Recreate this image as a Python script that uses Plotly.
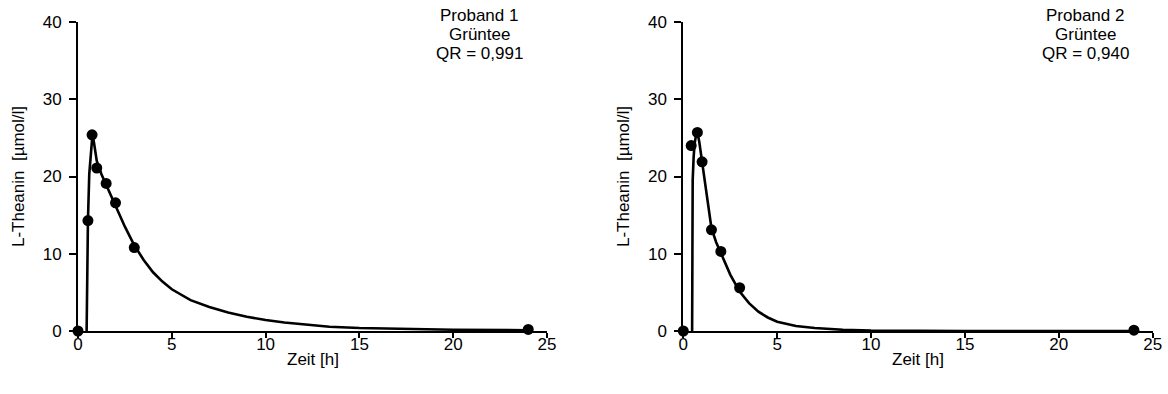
import plotly.graph_objects as go

# Measured plasma concentrations (time in h, L-Theanin in µmol/l)
p1_time = [0, 0.53, 0.75, 1.0, 1.5, 2.0, 3.0, 24.0]
p1_conc = [0, 14.3, 25.4, 21.1, 19.1, 16.6, 10.8, 0.2]

p2_time = [0, 0.42, 0.75, 1.0, 1.5, 2.0, 3.0, 24.0]
p2_conc = [0, 24.0, 25.7, 21.9, 13.1, 10.3, 5.6, 0.1]

# Fitted model curves
p1_fit_time = [0.46, 0.48, 0.53, 0.6, 0.7, 0.77, 0.85, 1.0, 1.25, 1.5, 1.75, 2.0,
               2.5, 3.0, 3.5, 4.0, 4.5, 5.0, 6.0, 7.0, 8.0, 9.0, 10.0, 11.0,
               12.0, 13.4, 15.0, 17.0, 20.0, 24.0]
p1_fit_conc = [0, 8.0, 14.3, 20.3, 24.2, 25.4, 24.4, 22.0, 20.3, 18.9, 17.6, 16.3,
               13.5, 11.1, 9.2, 7.6, 6.4, 5.4, 4.0, 3.1, 2.4, 1.85, 1.42, 1.1,
               0.85, 0.55, 0.38, 0.26, 0.17, 0.1]

p2_fit_time = [0.47, 0.48, 0.5, 0.55, 0.6, 0.68, 0.75, 0.85, 1.0, 1.25, 1.5, 1.75,
               2.0, 2.5, 3.0, 3.5, 4.0, 4.5, 5.0, 6.0, 7.0, 7.5, 8.5, 10.0,
               12.0, 15.0, 24.0]
p2_fit_conc = [0, 10.0, 19.5, 22.5, 24.2, 25.4, 25.7, 24.5, 21.8, 17.2, 13.3, 11.5,
               10.1, 7.3, 5.1, 3.6, 2.5, 1.75, 1.2, 0.65, 0.38, 0.3, 0.16, 0.06,
               0.02, 0.005, 0]

# Panel captions, one list entry per text line
panel_labels = [["Proband 1", "Grüntee", "QR = 0,991"],
                ["Proband 2", "Grüntee", "QR = 0,940"]]

x_ticks = [0, 5, 10, 15, 20, 25]
y_ticks = [0, 10, 20, 30, 40]

FONT = "Liberation Sans, Arial, sans-serif"
FS = 17
W, H = 1168, 394

fig = go.Figure()

panels = [
    (p1_time, p1_conc, p1_fit_time, p1_fit_conc, "x", "y"),
    (p2_time, p2_conc, p2_fit_time, p2_fit_conc, "x2", "y2"),
]
for t, c, ft, fc, xa, ya in panels:
    fig.add_trace(go.Scatter(x=ft, y=fc, mode="lines", xaxis=xa, yaxis=ya,
                             line=dict(color="black", width=2.6),
                             cliponaxis=False, showlegend=False, hoverinfo="skip"))
    fig.add_trace(go.Scatter(x=t, y=c, mode="markers", xaxis=xa, yaxis=ya,
                             marker=dict(color="black", size=11),
                             cliponaxis=False, showlegend=False))

# plot area in pixels
left_x = (78, 547)
right_x = (683.3, 1152.7)
y_px = (22, 331)
ydom = [1 - y_px[1] / H, 1 - y_px[0] / H]

xaxis_common = dict(range=[0, 25], tickvals=x_ticks, ticks="outside", ticklen=5,
                    tickwidth=1.5, tickcolor="black", showline=True, linewidth=2,
                    linecolor="black", showgrid=False, zeroline=False,
                    automargin=False, ticklabelstandoff=-8,
                    tickfont=dict(size=FS, color="black"))
yaxis_common = dict(range=[0, 40], tickvals=y_ticks, ticks="outside", ticklen=7,
                    tickwidth=1.5, tickcolor="black", showline=True, linewidth=2,
                    linecolor="black", showgrid=False, zeroline=False,
                    automargin=False,
                    tickfont=dict(size=FS, color="black"), ticklabelstandoff=4,
                    title=dict(text="L-Theanin  [µmol/l]",
                               font=dict(size=FS, color="black"), standoff=14))

fig.update_layout(
    width=W, height=H, margin=dict(l=0, r=0, t=0, b=0),
    paper_bgcolor="white", plot_bgcolor="white",
    font=dict(family=FONT, size=FS, color="black"),
    xaxis=dict(xaxis_common, domain=[left_x[0] / W, left_x[1] / W], anchor="y"),
    yaxis=dict(yaxis_common, domain=ydom, anchor="x"),
    xaxis2=dict(xaxis_common, domain=[right_x[0] / W, right_x[1] / W], anchor="y2"),
    yaxis2=dict(yaxis_common, domain=ydom, anchor="x2"),
)

caption_rows_px = [15, 34, 53]
for i, lines in enumerate(panel_labels):
    xa = "x" if i == 0 else "x2"
    for line, ypx in zip(lines, caption_rows_px):
        fig.add_annotation(text=line, x=21.4, y=1 - ypx / H, xref=xa, yref="paper",
                           xanchor="center", yanchor="middle", showarrow=False,
                           font=dict(size=FS, color="black"))
    # x-axis title
    fig.add_annotation(text="Zeit [h]", x=12.5, y=1 - 359 / H, xref=xa, yref="paper",
                       xanchor="center", yanchor="middle", showarrow=False,
                       font=dict(size=FS, color="black"))

fig.write_html("out.html")
